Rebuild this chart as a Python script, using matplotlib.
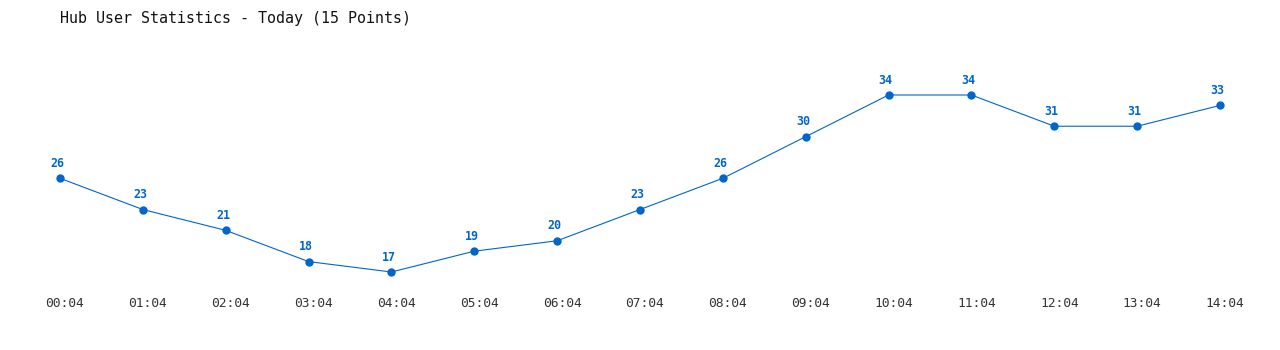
import matplotlib
matplotlib.use("Agg")
import matplotlib.pyplot as plt
import matplotlib.transforms as mtransforms

times = ["00:04", "01:04", "02:04", "03:04", "04:04", "05:04", "06:04", "07:04",
         "08:04", "09:04", "10:04", "11:04", "12:04", "13:04", "14:04"]
users = [26, 23, 21, 18, 17, 19, 20, 23, 26, 30, 34, 34, 31, 31, 33]

blue = "#0066cc"
mono = "DejaVu Sans Mono"

fig = plt.figure(figsize=(12.8, 3.5), dpi=100)
# axes box spans from first to last point, min to max value
ax = fig.add_axes([60 / 1280, 1 - 272 / 350, 1160 / 1280, 177 / 350])
x = list(range(len(users)))
ax.plot(x, users, color=blue, lw=0.8, marker="o", ms=5, clip_on=False)
ax.set_xlim(0, len(users) - 1)
ax.set_ylim(min(users), max(users))

for xi, v in zip(x, users):
    ax.annotate(str(v), (xi, v), xytext=(-2, 6), textcoords="offset points",
                ha="center", va="bottom", color=blue, fontsize=8.4,
                fontweight="bold", family=mono)

for s in ax.spines.values():
    s.set_visible(False)
ax.set_yticks([])
ax.set_xticks(x)
ax.set_xticklabels(times, family=mono, fontsize=9.3, color="#333333")
ax.tick_params(axis="x", length=0, pad=18)
shift = mtransforms.ScaledTranslation(5 / 100, 0, fig.dpi_scale_trans)
for lbl in ax.get_xticklabels():
    lbl.set_transform(lbl.get_transform() + shift)

fig.text(60 / 1280, 1 - 18 / 350, "Hub User Statistics - Today (15 Points)",
         family=mono, fontsize=10.8, color="#111111", va="center", ha="left")

fig.savefig("out.png", dpi=100)
